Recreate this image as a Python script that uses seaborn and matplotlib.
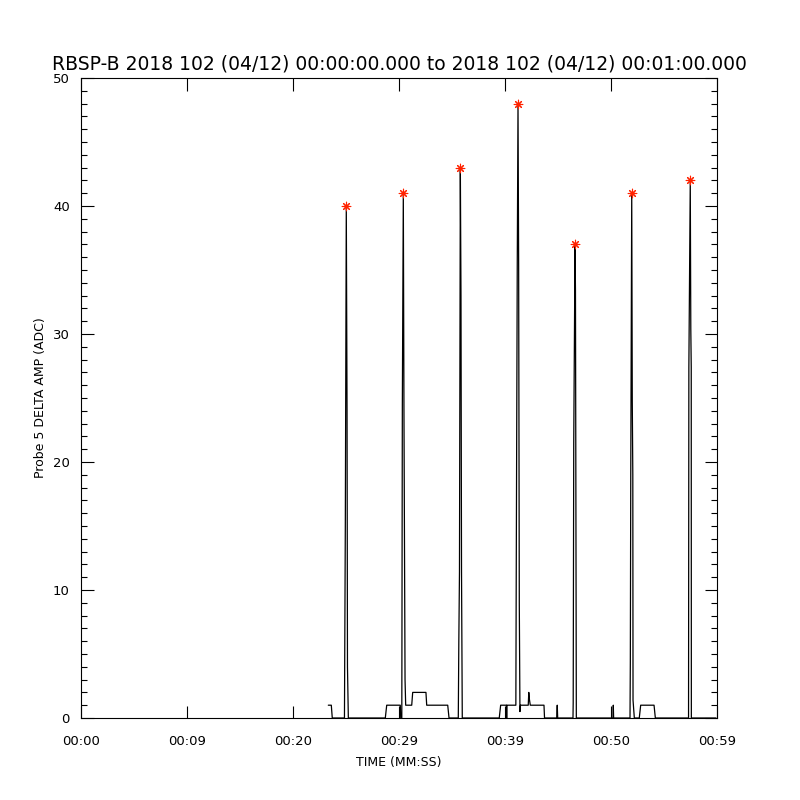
import numpy as np
import pandas as pd
import matplotlib
matplotlib.use('Agg')
import matplotlib.pyplot as plt
import seaborn as sns
from matplotlib.ticker import MultipleLocator

# Probe 5 delta amplitude trace (time in seconds, ADC counts)
trace_time = [22.94, 23.22, 23.31, 24.44, 24.52, 24.61, 24.68, 24.72, 24.80,
              28.23, 28.36, 29.62, 29.66, 29.76, 29.81, 29.90, 29.96, 30.06,
              30.12, 30.68, 30.77, 32.00, 32.07, 34.02, 34.14,
              35.00, 35.05, 35.11, 35.19, 35.25, 35.30, 35.37,
              38.80, 38.93, 39.47, 39.49, 39.51,
              40.34, 40.38, 40.47, 40.54, 40.60, 40.66, 40.72, 40.77,
              41.49, 41.54, 41.59, 41.68, 42.95, 43.00,
              44.13, 44.18, 44.22,
              45.64, 45.66, 45.71, 45.83, 45.87, 45.90, 45.95,
              49.35, 49.38, 49.41,
              50.93, 50.96, 51.00, 51.09, 51.14, 51.19, 51.21, 51.33,
              51.79, 51.92, 53.16, 53.28,
              56.36, 56.39, 56.52, 56.57, 56.61, 56.62, 58.90]
trace_amp = [1, 1, 0, 0, 15, 40, 24, 4, 0,
             0, 1, 1, 0, 0, 24.4, 41, 24, 3,
             1, 1, 2, 2, 1, 1, 0,
             0, 6, 11.4, 43, 33, 11.4, 0,
             0, 1, 1, 0, 1,
             1, 12.3, 35.3, 48, 35.3, 8.9, 0.5, 1,
             1, 2, 1.5, 1, 1, 0,
             0, 1, 0,
             0, 1.2, 21.5, 37, 33.4, 21.5, 0,
             0, 1, 0,
             0, 4.4, 19, 41, 24.8, 19, 1.4, 0,
             0, 1, 1, 0,
             0, 27.4, 42, 30.4, 27.4, 0, 0]

# detected peaks
peak_time = [24.61, 29.90, 35.19, 40.54, 45.83, 51.09, 56.52]
peak_amp = [40, 41, 43, 48, 37, 41, 42]

tick_labels = ['00:00', '00:09', '00:20', '00:29', '00:39', '00:50', '00:59']
t_max = 59.0

trace = pd.DataFrame({'t': trace_time, 'amp': trace_amp})
peaks = pd.DataFrame({'t': peak_time, 'amp': peak_amp})

sns.set_style('ticks')
plt.rcParams['font.family'] = ['DejaVu Sans']
plt.rcParams['text.color'] = 'black'
plt.rcParams['axes.labelcolor'] = 'black'
plt.rcParams['xtick.color'] = 'black'
plt.rcParams['ytick.color'] = 'black'

fig = plt.figure(figsize=(8, 8), dpi=100)
ax = fig.add_axes([81 / 800, 82 / 800, 636 / 800, 640 / 800])

sns.lineplot(data=trace, x='t', y='amp', sort=False, estimator=None,
             color='black', linewidth=0.9, ax=ax)
sns.scatterplot(data=peaks, x='t', y='amp', marker=(8, 2, 0), s=38,
                color='#ff2200', edgecolor='#ff2200', linewidth=0.8, zorder=5, ax=ax)

ax.set_xlim(0, t_max)
ax.set_ylim(0, 50)
ax.set_xticks(np.linspace(0, t_max, len(tick_labels)))
ax.set_xticklabels(tick_labels)
ax.yaxis.set_major_locator(MultipleLocator(10))
ax.yaxis.set_minor_locator(MultipleLocator(1))

ax.tick_params(axis='both', which='major', direction='in', length=9, width=0.8,
               top=True, right=True, labelsize=9.5, color='black')
ax.tick_params(axis='x', which='major', pad=12)
ax.tick_params(axis='y', which='major', pad=8)
ax.tick_params(axis='y', which='minor', direction='in', length=4.5, width=0.8,
               left=True, right=True)
for s in ax.spines.values():
    s.set_linewidth(0.8)
    s.set_color('black')

ax.set_xlabel('TIME (MM:SS)', fontsize=9, labelpad=6)
ax.set_ylabel('Probe 5 DELTA AMP (ADC)', fontsize=9)
ax.set_title('RBSP-B 2018 102 (04/12) 00:00:00.000 to 2018 102 (04/12) 00:01:00.000',
             fontsize=13.5, pad=6)

fig.savefig('out.png', dpi=100)
